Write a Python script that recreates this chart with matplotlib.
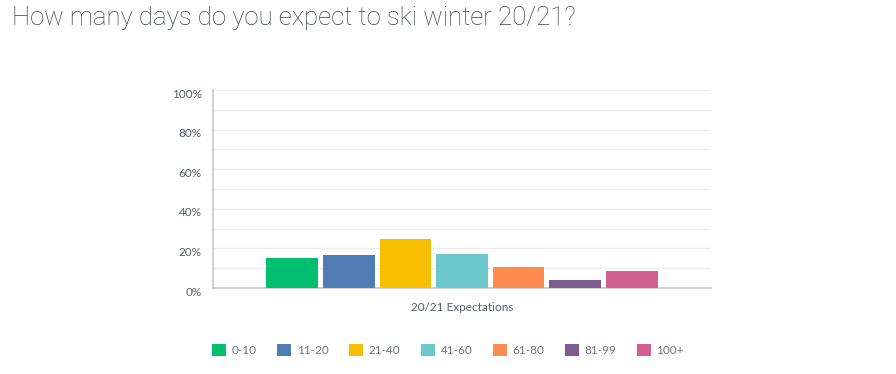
import matplotlib.pyplot as plt
import matplotlib.transforms as mtransforms
from matplotlib.patches import Patch

categories = ['0-10', '11-20', '21-40', '41-60', '61-80', '81-99', '100+']
values = [15.0, 16.5, 25.0, 17.0, 10.5, 4.0, 8.5]
colors = ['#00bf6f', '#507cb6', '#f9be00', '#6bc8cd', '#ff8b4f', '#7d5c8f', '#d25f90']
group_label = '20/21 Expectations'
title = 'How many days do you expect to ski winter 20/21?'
yticks = [0, 20, 40, 60, 80, 100]

plt.rcParams['font.family'] = ['Lato', 'DejaVu Sans']

fig = plt.figure(figsize=(8.96, 3.74), dpi=100)
ax = fig.add_axes([213 / 896, 1 - 288 / 374, 498 / 896, 198 / 374])

xs = list(range(len(values)))
ax.bar(xs, values, width=0.91, color=colors, zorder=3)

ax.set_xlim(-1.4, 7.4)
ax.set_ylim(0, 100)
ax.set_yticks(yticks)
ax.set_yticklabels([f'{v}%' for v in yticks])
ax.set_yticks(range(10, 100, 20), minor=True)
ax.grid(axis='y', which='both', color='#ececec', lw=1, zorder=0)
ax.set_xticks([3])
ax.set_xticklabels([group_label])
ax.tick_params(axis='both', which='both', length=0, labelsize=8.5, labelcolor='#555f69')
ax.tick_params(axis='y', pad=8)
ax.tick_params(axis='x', pad=10)
offset = mtransforms.ScaledTranslation(0, -3 / 100, fig.dpi_scale_trans)
for lab in ax.get_yticklabels():
    lab.set_transform(lab.get_transform() + offset)

for s in ['top', 'right']:
    ax.spines[s].set_visible(False)
for s in ['left', 'bottom']:
    ax.spines[s].set_color('#c8c8c8')
    ax.spines[s].set_linewidth(1.2)

fig.text(12 / 896, 1 - 18 / 374, title, fontsize=18.5, color='#3b444c',
         family=['Roboto', 'DejaVu Sans'], fontweight='light', va='center', ha='left')

handles = [Patch(facecolor=c, edgecolor='none') for c in colors]
fig.legend(handles, categories, loc='center', bbox_to_anchor=(448 / 896, 1 - 350 / 374),
           ncol=7, frameon=False, fontsize=8.5, labelcolor='#6b737a',
           handlelength=1.2, handleheight=1.2, handletextpad=0.45, columnspacing=1.75)

fig.savefig('out.png', dpi=100)
